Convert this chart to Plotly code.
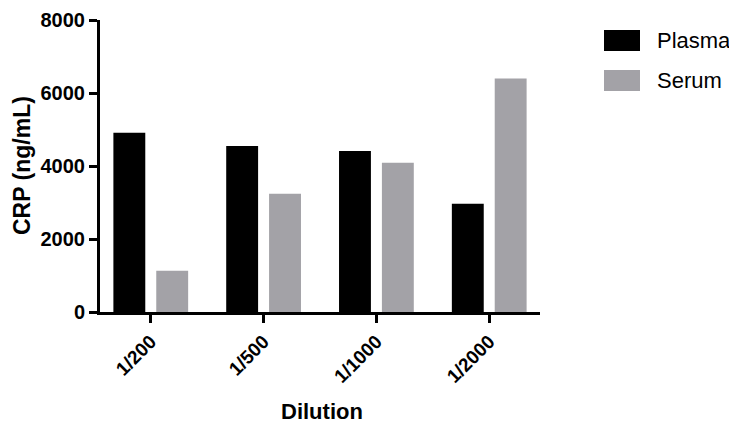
import plotly.graph_objects as go

categories = ["1/200", "1/500", "1/1000", "1/2000"]
plasma = [4910, 4550, 4410, 2965]
serum = [1130, 3240, 4090, 6400]
series_names = ["Plasma", "Serum"]
series_colors = ["#000000", "#A3A2A7"]
y_ticks = [0, 2000, 4000, 6000, 8000]
x_title = "Dilution"
y_title = "CRP (ng/mL)"

# page body has an 8px margin; size the figure so it ends at the window edge
OFF = 8
W, H = 737 - OFF, 424 - OFF
ML, MR, MT, MB = 100 - OFF, 197, 20 - OFF, 112
PW, PH = W - ML - MR, H - MT - MB

def px_to_paper(px, py):
    # px, py are window pixel positions
    return (px - OFF - ML) / PW, (H - MB - (py - OFF)) / PH

FONT = "Liberation Sans, Arial, Helvetica, sans-serif"

fig = go.Figure()
for name, vals, col in zip(series_names, [plasma, serum], series_colors):
    fig.add_trace(go.Bar(
        x=list(range(len(categories))), y=vals, name=name,
        marker=dict(color=col, line=dict(width=0)), showlegend=False,
    ))

# manual legend with large swatches
for i, (name, col) in enumerate(zip(series_names, series_colors)):
    x0, y0 = px_to_paper(604, 30 + 40 * i)
    x1, y1 = px_to_paper(640, 51 + 40 * i)
    fig.add_shape(type="rect", xref="paper", yref="paper", x0=x0, x1=x1, y0=y1, y1=y0,
                  fillcolor=col, line=dict(width=0))
    tx, ty = px_to_paper(655, 41 + 40 * i)
    fig.add_annotation(xref="paper", yref="paper", x=tx, y=ty, text=name, showarrow=False,
                       xanchor="left", yanchor="middle",
                       font=dict(family=FONT, size=22, color="#000"))

# axis titles
ax_, ay_ = px_to_paper(22, 166)
fig.add_annotation(xref="paper", yref="paper", x=ax_, y=ay_, text=y_title, showarrow=False,
                   textangle=-90, xanchor="center", yanchor="middle",
                   font=dict(family=FONT, size=23, weight="bold", color="#000"))
bx_, by_ = px_to_paper(322, 411)
fig.add_annotation(xref="paper", yref="paper", x=bx_, y=by_, text=x_title, showarrow=False,
                   xanchor="center", yanchor="middle",
                   font=dict(family=FONT, size=22, weight="bold", color="#000"))

fig.update_layout(
    width=W, height=H,
    margin=dict(l=ML, r=MR, t=MT, b=MB),
    plot_bgcolor="white", paper_bgcolor="white",
    barmode="group", bargap=0.24, bargroupgap=0.256,
    font=dict(family=FONT, color="#000"),
)
fig.update_xaxes(
    range=[-0.45, 3.45], tickmode="array", tickvals=list(range(len(categories))),
    ticktext=categories, tickangle=-45, automargin=False,
    tickfont=dict(family=FONT, size=19, weight="bold"),
    showline=True, linecolor="#000", linewidth=3,
    ticks="outside", ticklen=8, tickwidth=3, tickcolor="#000",
    showgrid=False, zeroline=False,
)
fig.update_yaxes(
    range=[0, 8000], tickmode="array", tickvals=y_ticks, ticktext=[str(v) for v in y_ticks],
    automargin=False,
    tickfont=dict(family=FONT, size=20, weight="bold"),
    showline=True, linecolor="#000", linewidth=3,
    ticks="outside", ticklen=8, tickwidth=3, tickcolor="#000",
    showgrid=False, zeroline=False,
)
fig.write_html("out.html")
